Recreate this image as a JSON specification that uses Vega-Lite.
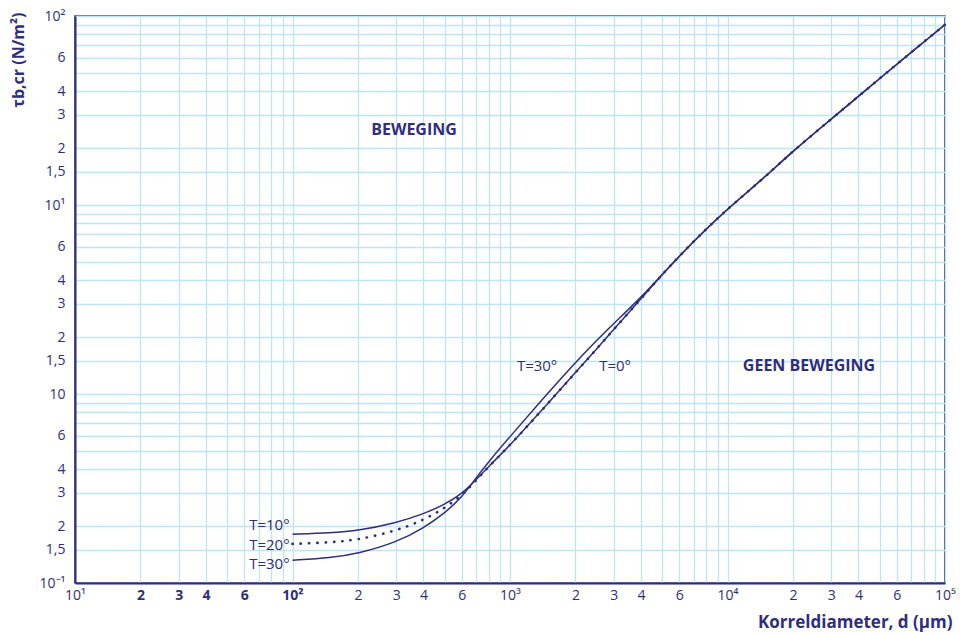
{
  "$schema": "https://vega.github.io/schema/vega-lite/v6.json",
  "width": 870,
  "height": 567,
  "autosize": "none",
  "padding": {"left": 75, "top": 16, "right": 15, "bottom": 51},
  "background": "white",
  "config": {
    "font": "Open Sans",
    "view": {"stroke": "#2f2e7e", "strokeWidth": 1.6}
  },
  "datasets": {
    "curves": [
      {"series": "T10", "d": 100, "tau": 0.181},
      {"series": "T10", "d": 150, "tau": 0.184},
      {"series": "T10", "d": 200, "tau": 0.189},
      {"series": "T10", "d": 300, "tau": 0.208},
      {"series": "T10", "d": 400, "tau": 0.232},
      {"series": "T10", "d": 500, "tau": 0.26},
      {"series": "T10", "d": 600, "tau": 0.296},
      {"series": "T10", "d": 700, "tau": 0.352},
      {"series": "T10", "d": 800, "tau": 0.415},
      {"series": "T10", "d": 1000, "tau": 0.535},
      {"series": "T10", "d": 1400, "tau": 0.82},
      {"series": "T10", "d": 2000, "tau": 1.3},
      {"series": "T10", "d": 2500, "tau": 1.73},
      {"series": "T10", "d": 3000, "tau": 2.2},
      {"series": "T10", "d": 4000, "tau": 3.19},
      {"series": "T10", "d": 4900, "tau": 4.17},
      {"series": "T10", "d": 6000, "tau": 5.37},
      {"series": "T10", "d": 8000, "tau": 7.5},
      {"series": "T10", "d": 10000, "tau": 9.5},
      {"series": "T10", "d": 12000, "tau": 11.4},
      {"series": "T10", "d": 15000, "tau": 14.2},
      {"series": "T10", "d": 20000, "tau": 19.3},
      {"series": "T10", "d": 30000, "tau": 28.5},
      {"series": "T10", "d": 40000, "tau": 37.6},
      {"series": "T10", "d": 50000, "tau": 46.6},
      {"series": "T10", "d": 60000, "tau": 55.5},
      {"series": "T10", "d": 80000, "tau": 73},
      {"series": "T10", "d": 100000, "tau": 90},

      {"series": "T20", "d": 100, "tau": 0.161},
      {"series": "T20", "d": 150, "tau": 0.164},
      {"series": "T20", "d": 200, "tau": 0.169},
      {"series": "T20", "d": 300, "tau": 0.189},
      {"series": "T20", "d": 400, "tau": 0.215},
      {"series": "T20", "d": 500, "tau": 0.249},
      {"series": "T20", "d": 600, "tau": 0.29},
      {"series": "T20", "d": 700, "tau": 0.35},
      {"series": "T20", "d": 800, "tau": 0.415},
      {"series": "T20", "d": 1000, "tau": 0.535},
      {"series": "T20", "d": 1400, "tau": 0.82},
      {"series": "T20", "d": 2000, "tau": 1.3},
      {"series": "T20", "d": 2500, "tau": 1.73},
      {"series": "T20", "d": 3000, "tau": 2.2},
      {"series": "T20", "d": 4000, "tau": 3.19},
      {"series": "T20", "d": 4900, "tau": 4.17},
      {"series": "T20", "d": 6000, "tau": 5.37},
      {"series": "T20", "d": 8000, "tau": 7.5},
      {"series": "T20", "d": 10000, "tau": 9.5},
      {"series": "T20", "d": 12000, "tau": 11.4},
      {"series": "T20", "d": 15000, "tau": 14.2},
      {"series": "T20", "d": 20000, "tau": 19.3},
      {"series": "T20", "d": 30000, "tau": 28.5},
      {"series": "T20", "d": 40000, "tau": 37.6},
      {"series": "T20", "d": 50000, "tau": 46.6},
      {"series": "T20", "d": 60000, "tau": 55.5},
      {"series": "T20", "d": 80000, "tau": 73},
      {"series": "T20", "d": 100000, "tau": 90},

      {"series": "T30", "d": 100, "tau": 0.132},
      {"series": "T30", "d": 150, "tau": 0.136},
      {"series": "T30", "d": 200, "tau": 0.143},
      {"series": "T30", "d": 300, "tau": 0.164},
      {"series": "T30", "d": 400, "tau": 0.195},
      {"series": "T30", "d": 500, "tau": 0.234},
      {"series": "T30", "d": 600, "tau": 0.283},
      {"series": "T30", "d": 700, "tau": 0.362},
      {"series": "T30", "d": 800, "tau": 0.44},
      {"series": "T30", "d": 1000, "tau": 0.595},
      {"series": "T30", "d": 1400, "tau": 0.93},
      {"series": "T30", "d": 2000, "tau": 1.47},
      {"series": "T30", "d": 2500, "tau": 1.92},
      {"series": "T30", "d": 3000, "tau": 2.36},
      {"series": "T30", "d": 4000, "tau": 3.24},
      {"series": "T30", "d": 4900, "tau": 4.17},
      {"series": "T30", "d": 6000, "tau": 5.37},
      {"series": "T30", "d": 8000, "tau": 7.5},
      {"series": "T30", "d": 10000, "tau": 9.5},
      {"series": "T30", "d": 12000, "tau": 11.4},
      {"series": "T30", "d": 15000, "tau": 14.2},
      {"series": "T30", "d": 20000, "tau": 19.3},
      {"series": "T30", "d": 30000, "tau": 28.5},
      {"series": "T30", "d": 40000, "tau": 37.6},
      {"series": "T30", "d": 50000, "tau": 46.6},
      {"series": "T30", "d": 60000, "tau": 55.5},
      {"series": "T30", "d": 80000, "tau": 73},
      {"series": "T30", "d": 100000, "tau": 90}
    ],
    "regions": [
      {"d": 362, "tau": 24.9, "label": "BEWEGING"},
      {"d": 23700, "tau": 1.41, "label": "GEEN BEWEGING"}
    ],
    "midLabels": [
      {"d": 1332, "tau": 1.41, "label": "T=30°"},
      {"d": 3041, "tau": 1.41, "label": "T=0°"}
    ],
    "leftLabels": [
      {"d": 97, "tau": 0.203, "label": "T=10°"},
      {"d": 97, "tau": 0.159, "label": "T=20°"},
      {"d": 97, "tau": 0.126, "label": "T=30°"}
    ]
  },
  "encoding": {
    "x": {
      "field": "d",
      "type": "quantitative",
      "scale": {"type": "log", "domain": [10, 100000], "nice": false},
      "axis": {
        "values": [10, 20, 30, 40, 50, 60, 70, 80, 90, 100, 200, 300, 400, 500, 600, 700, 800, 900, 1000, 2000, 3000, 4000, 5000, 6000, 7000, 8000, 9000, 10000, 20000, 30000, 40000, 50000, 60000, 70000, 80000, 90000, 100000],
        "labelExpr": "datum.value == 10 ? '10¹' : datum.value == 100 ? '10²' : datum.value == 1000 ? '10³' : datum.value == 10000 ? '10⁴' : datum.value == 100000 ? '10⁵' : test(regexp('^[2346]0*$'), '' + datum.value) ? replace('' + datum.value, regexp('0', 'g'), '') : ''",
        "ticks": false,
        "grid": true,
        "gridColor": "#bde5f7",
        "gridWidth": 1.3,
        "domainColor": "#2f2e7e",
        "domainWidth": 2,
        "labelColor": "#2f2e7e",
        "labelFontSize": 14,
        "labelFontWeight": {"condition": {"test": "datum.value > 10 && datum.value <= 100", "value": "bold"}, "value": "normal"},
        "labelPadding": 5,
        "labelOverlap": false,
        "labelFlush": false,
        "labelBound": false,
        "title": "Korreldiameter, d (μm)",
        "titleFontSize": 17,
        "titleFontWeight": "bold",
        "titleColor": "#2f2e7e",
        "titleX": 877,
        "titleY": 39,
        "titleAlign": "right",
        "titleBaseline": "middle"
      }
    },
    "y": {
      "field": "tau",
      "type": "quantitative",
      "scale": {"type": "log", "domain": [0.1, 100], "nice": false},
      "axis": {
        "values": [0.1, 0.15, 0.2, 0.3, 0.4, 0.5, 0.6, 0.7, 0.8, 0.9, 1, 1.5, 2, 3, 4, 5, 6, 7, 8, 9, 10, 15, 20, 30, 40, 50, 60, 70, 80, 90, 100],
        "labelExpr": "datum.value == 100 ? '10²' : datum.value == 10 ? '10¹' : datum.value == 1 ? '10' : datum.value == 0.1 ? '10⁻¹' : test(regexp('^(0[.])?[2346]0*$'), '' + datum.value) ? replace(replace('' + datum.value, '0.', ''), regexp('0', 'g'), '') : test(regexp('^(0[.])?1[.]?50*$'), '' + datum.value) ? '1,5' : ''",
        "ticks": false,
        "grid": true,
        "gridColor": "#bde5f7",
        "gridWidth": 1.3,
        "domainColor": "#2f2e7e",
        "domainWidth": 2,
        "labelColor": "#2f2e7e",
        "labelFontSize": 14,
        "labelPadding": 10,
        "labelOverlap": false,
        "labelFlush": false,
        "labelBound": false,
        "labelBaseline": "middle",
        "title": "τb,cr (N/m²)",
        "titleFontSize": 16,
        "titleFontWeight": "bold",
        "titleColor": "#2f2e7e",
        "titleAngle": -90,
        "titleX": -57,
        "titleY": -4,
        "titleAlign": "right",
        "titleBaseline": "middle"
      }
    }
  },
  "layer": [
    {
      "data": {"name": "curves"},
      "transform": [{"filter": "datum.series !== 'T20'"}],
      "mark": {"type": "line", "color": "#2f2e7e", "strokeWidth": 1.5, "interpolate": "basis"},
      "encoding": {"detail": {"field": "series", "type": "nominal"}}
    },
    {
      "data": {"name": "curves"},
      "transform": [{"filter": "datum.series === 'T20'"}],
      "mark": {"type": "line", "color": "#2f2e7e", "strokeWidth": 2.6, "strokeDash": [0.3, 8], "strokeCap": "round", "interpolate": "basis"},
      "encoding": {}
    },
    {
      "data": {"name": "regions"},
      "mark": {"type": "text", "color": "#2f2e7e", "fontSize": 16, "fontWeight": "bold", "align": "center", "baseline": "middle"},
      "encoding": {"text": {"field": "label", "type": "nominal"}}
    },
    {
      "data": {"name": "midLabels"},
      "mark": {"type": "text", "color": "#2f2e7e", "fontSize": 15, "align": "center", "baseline": "middle"},
      "encoding": {"text": {"field": "label", "type": "nominal"}}
    },
    {
      "data": {"name": "leftLabels"},
      "mark": {"type": "text", "color": "#2f2e7e", "fontSize": 15, "align": "right", "baseline": "middle"},
      "encoding": {"text": {"field": "label", "type": "nominal"}}
    }
  ]
}
